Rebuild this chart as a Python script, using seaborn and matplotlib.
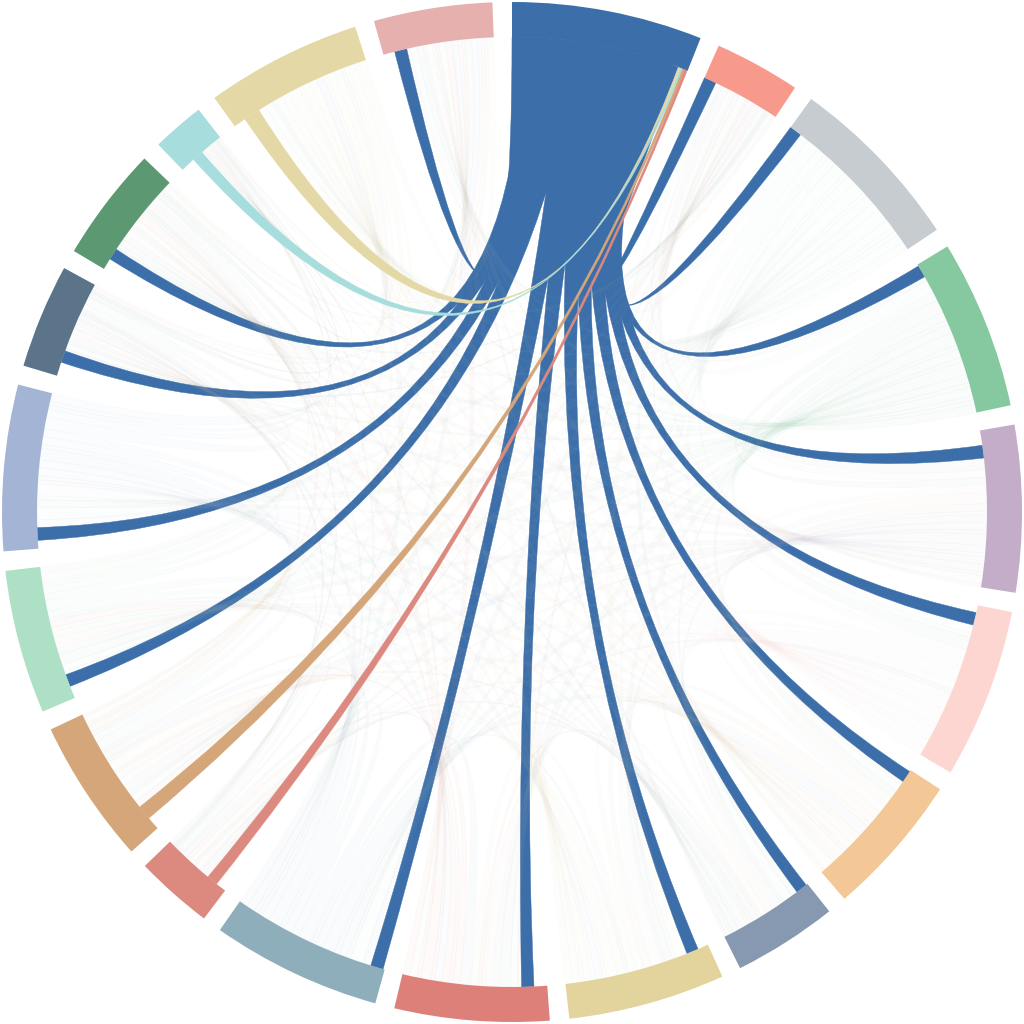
import numpy as np
import matplotlib.pyplot as plt
from matplotlib.path import Path
from matplotlib.patches import PathPatch, Wedge
from matplotlib.colors import to_rgba
import seaborn as sns


# nodes in clockwise order, starting at 12 o'clock
nodes = ["A", "B", "C", "D", "E", "F", "G", "H", "I", "J",
         "K", "L", "M", "N", "O", "P", "Q", "R", "S", "T"]
node_colors = ["#3c6faa", "#f7998b", "#c7ccd1", "#86c8a0", "#c4adc8",
               "#fdd6d2", "#f3c796", "#8699b0", "#e3d39c", "#dd807a",
               "#8faebc", "#dc8a80", "#d4a67a", "#aee0c6", "#a3b4d4",
               "#5b7489", "#5c9872", "#a8dddd", "#e4d9a6", "#e5b0ae"]

# arc length of every node (degrees)
node_span = [21.7, 9.8, 20.5, 19.3, 19.0, 19.4, 16.4, 11.9, 17.9, 17.6,
             19.4, 8.9, 16.5, 16.4, 18.9, 11.9, 13.1, 6.0, 17.8, 13.5]

# empty stretch at the start of a node before its link with node A
lead = [0, 0, 0, 0.2, 1.8, 0.9, 0.2, 0.2, 1.3, 1.6,
        0.2, 1.3, 1.6, 1.5, 1.0, 1.7, 1.4, 1.8, 1.5, 1.4]

# width of the link with A at the other node's end
to_a = [0, 1.5, 1.5, 1.5, 1.55, 1.55, 1.45, 1.4, 1.45, 1.5,
        1.55, 1.35, 1.75, 1.5, 1.55, 1.45, 1.4, 1.35, 2.0, 1.5]

# links along A's arc (clockwise): partner, offset from A's start, width
a_order = [19, 16, 15, 14, 13, 10, 9, 8, 7, 6, 5, 4, 3, 2, 1, 18, 17, 12, 11]
a_pos = [0.0, 1.3, 2.6, 3.9, 5.2, 6.5, 7.7, 9.0, 10.3, 11.6,
         12.9, 14.1, 15.4, 16.7, 17.9, 20.5, 20.8, 21.05, 21.35]
a_width = [2.8, 3.0, 3.0, 3.1, 3.0, 3.1, 3.0, 3.0, 2.9, 3.0,
           3.1, 3.1, 3.0, 2.9, 2.6, 0.25, 0.2, 0.3, 0.3]
a_is_source = [True] * 15 + [False] * 4

# faint flows between the other nodes (rows/cols = nodes B..T)
cross = [
    [0, 2, 1, 3, 2, 1, 2, 3, 1, 2, 1, 2, 1, 2, 1, 1, 0, 2, 1],
    [2, 0, 3, 2, 1, 2, 3, 1, 2, 3, 1, 2, 2, 3, 2, 1, 1, 2, 2],
    [1, 3, 0, 2, 3, 2, 1, 2, 3, 1, 2, 1, 3, 2, 1, 2, 1, 1, 2],
    [3, 2, 2, 0, 2, 3, 2, 1, 2, 2, 1, 3, 2, 1, 2, 2, 1, 2, 1],
    [2, 1, 3, 2, 0, 2, 1, 3, 2, 1, 2, 2, 1, 3, 1, 2, 1, 2, 2],
    [1, 2, 2, 3, 2, 0, 2, 2, 1, 3, 1, 2, 2, 1, 2, 1, 1, 3, 1],
    [2, 3, 1, 2, 1, 2, 0, 2, 1, 2, 1, 1, 2, 1, 2, 1, 0, 1, 1],
    [3, 1, 2, 1, 3, 2, 2, 0, 2, 1, 2, 3, 1, 2, 1, 2, 1, 2, 2],
    [1, 2, 3, 2, 2, 1, 1, 2, 0, 3, 2, 1, 2, 2, 1, 3, 1, 2, 2],
    [2, 3, 1, 2, 1, 3, 2, 1, 3, 0, 2, 2, 1, 3, 2, 1, 1, 2, 2],
    [1, 1, 2, 1, 2, 1, 1, 2, 2, 2, 0, 1, 2, 1, 1, 1, 0, 1, 1],
    [2, 2, 1, 3, 2, 2, 1, 3, 1, 2, 1, 0, 3, 2, 1, 2, 1, 2, 1],
    [1, 2, 3, 2, 1, 2, 2, 1, 2, 1, 2, 3, 0, 2, 2, 1, 1, 2, 2],
    [2, 3, 2, 1, 3, 1, 1, 2, 2, 3, 1, 2, 2, 0, 3, 2, 1, 1, 2],
    [1, 2, 1, 2, 1, 2, 2, 1, 1, 2, 1, 1, 2, 3, 0, 2, 1, 1, 1],
    [1, 1, 2, 2, 2, 1, 1, 2, 3, 1, 1, 2, 1, 2, 2, 0, 1, 2, 1],
    [0, 1, 1, 1, 1, 1, 0, 1, 1, 1, 0, 1, 1, 1, 1, 1, 0, 1, 1],
    [2, 2, 1, 2, 2, 3, 1, 2, 2, 2, 1, 2, 2, 1, 1, 2, 1, 0, 2],
    [1, 2, 2, 1, 2, 1, 1, 2, 2, 2, 1, 1, 2, 2, 1, 1, 1, 2, 0],
]

R_OUT, R_IN = 510, 475

sns.set_theme(style="white")
palette = sns.color_palette(node_colors)

n = len(nodes)
gap = (360 - sum(node_span)) / n
starts = []
a = 90.0
for s in node_span:
    starts.append(a)
    a -= s + gap

# sub-arcs for each (node, partner)
sub = {}
for j, p, w in zip(a_order, a_pos, a_width):
    sub[(0, j)] = (starts[0] - p, starts[0] - p - w)
for i in range(1, n):
    a = starts[i] - lead[i]
    sub[(i, 0)] = (a, a - to_a[i])
    a -= to_a[i]
    rest = node_span[i] - lead[i] - to_a[i]
    row = cross[i - 1]
    tot = sum(row)
    for j in range(1, n):
        w = row[j - 1]
        if w > 0:
            width = w / tot * rest
            sub[(i, j)] = (a, a - width)
            a -= width


def pol(ang, r=R_IN):
    t = np.radians(ang)
    return (r * np.cos(t), r * np.sin(t))


def arc_pts(a0, a1, r=R_IN):
    k = max(3, int(abs(a0 - a1) * 6))
    t = np.radians(np.linspace(a0, a1, k))
    return list(zip(r * np.cos(t), r * np.sin(t)))


def ribbon_path(s, t):
    sa0, sa1 = s
    ta0, ta1 = t
    p = arc_pts(sa0, sa1)
    verts = p[:]
    codes = [Path.MOVETO] + [Path.LINETO] * (len(p) - 1)
    verts += [(0, 0), pol(ta0)]
    codes += [Path.CURVE3, Path.CURVE3]
    p = arc_pts(ta0, ta1)[1:]
    verts += p
    codes += [Path.LINETO] * len(p)
    verts += [(0, 0), pol(sa0), (0, 0)]
    codes += [Path.CURVE3, Path.CURVE3, Path.CLOSEPOLY]
    return Path(verts, codes)


fig = plt.figure(figsize=(10.24, 10.24), dpi=100)
ax = fig.add_axes([0, 0, 1, 1])
ax.set_xlim(-512, 512)
ax.set_ylim(-512, 512)
ax.set_aspect("equal")
ax.axis("off")

# links of node A: blue ones below the faint web, the others on top
late = []
for j, src in zip(a_order, a_is_source):
    path = ribbon_path(sub[(0, j)], sub[(j, 0)])
    if src:
        ax.add_patch(PathPatch(path, facecolor=palette[0], edgecolor=palette[0],
                               lw=0.3, zorder=2))
    else:
        late.append((path, palette[j]))

# faint web between the other nodes
for i in range(1, n):
    for j in range(i + 1, n):
        if (i, j) not in sub or (j, i) not in sub:
            continue
        s, t = sub[(i, j)], sub[(j, i)]
        col = palette[i] if s[0] - s[1] >= t[0] - t[1] else palette[j]
        ax.add_patch(PathPatch(ribbon_path(s, t), facecolor=to_rgba(col, 0.04),
                               edgecolor=to_rgba(col, 0.06), lw=0.3, zorder=3))

for path, col in late:
    ax.add_patch(PathPatch(path, facecolor=col, edgecolor=col, lw=0.3, zorder=4))

for i in range(n):
    ax.add_patch(Wedge((0, 0), R_OUT, starts[i] - node_span[i], starts[i],
                       width=R_OUT - R_IN, facecolor=palette[i],
                       edgecolor="none", zorder=5))

fig.savefig("out.png", dpi=100)
